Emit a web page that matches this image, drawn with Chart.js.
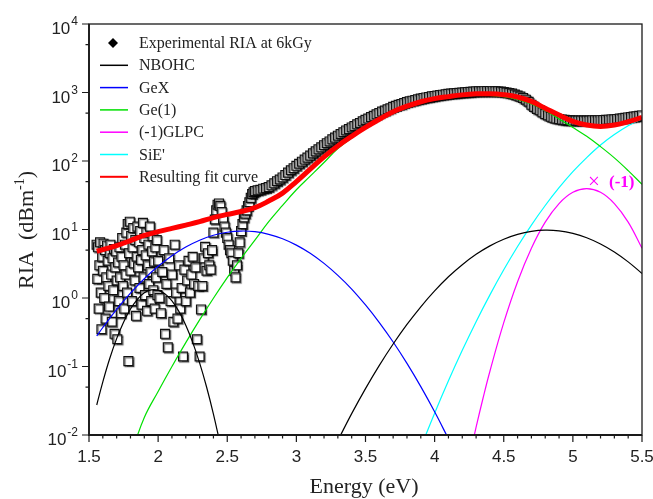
<!DOCTYPE html>
<html>
<head>
<meta charset="utf-8">
<script src="https://cdn.jsdelivr.net/npm/chart.js@4"></script>
<style>
  body { margin: 0; background: #fff; }
  #c { display: block; }
</style>
</head>
<body>
<canvas id="c" width="653" height="499"></canvas>
<script>
// measured spectrum (noisy low-energy part, then the smooth band)
const noisyE = [1.555, 1.56, 1.565, 1.57, 1.575, 1.58, 1.585, 1.59, 1.595, 1.6, 1.605, 1.61, 1.615, 1.62, 1.625, 1.63, 1.635, 1.64, 1.645, 1.65,
  1.655, 1.66, 1.665, 1.67, 1.675, 1.68, 1.685, 1.69, 1.695, 1.7, 1.705, 1.71, 1.715, 1.72, 1.725, 1.73, 1.735, 1.74, 1.745, 1.75,
  1.755, 1.76, 1.765, 1.77, 1.775, 1.78, 1.785, 1.79, 1.795, 1.8, 1.805, 1.81, 1.815, 1.82, 1.825, 1.83, 1.835, 1.84, 1.845, 1.85,
  1.855, 1.86, 1.865, 1.87, 1.875, 1.88, 1.885, 1.89, 1.895, 1.9, 1.905, 1.91, 1.915, 1.92, 1.925, 1.93, 1.935, 1.94, 1.945, 1.95,
  1.955, 1.96, 1.965, 1.97, 1.975, 1.98, 1.985, 1.99, 1.995,
  2.0, 2.01, 2.02, 2.03, 2.04, 2.05, 2.06, 2.07, 2.08, 2.09, 2.1, 2.11, 2.12, 2.13, 2.14, 2.15, 2.16, 2.17, 2.18, 2.19,
  2.2, 2.21, 2.22, 2.23, 2.24, 2.25, 2.26, 2.27, 2.28, 2.29, 2.3, 2.31, 2.32, 2.33, 2.34, 2.35, 2.36, 2.37, 2.38, 2.39,
  2.4, 2.41, 2.42, 2.43, 2.44, 2.45, 2.46, 2.47, 2.48, 2.49, 2.5, 2.51, 2.52, 2.53, 2.54, 2.55, 2.56, 2.57, 2.58, 2.59,
  2.6, 2.61, 2.62, 2.63, 2.64, 2.65, 2.66, 2.67, 2.68, 2.69];
const noisyRIA = [6.0, 1.9, 5.5, 0.7, 3.0, 6.5, 1.2, 0.35, 4.0, 2.5, 6.2, 1.0, 5.0, 0.5, 2.0, 5.8, 3.5, 1.5, 0.75, 4.5,
  6.0, 2.2, 0.45, 3.8, 1.3, 5.2, 0.3, 2.8, 4.8, 1.8, 0.25, 3.3, 0.9, 5.5, 2.0, 0.6, 4.0, 7.5, 1.5, 3.0,
  0.7, 6.0, 2.2, 9.0, 1.2, 12.0, 0.12, 4.5, 13.0, 2.5, 8.0, 0.9, 5.5, 10.5, 3.2, 1.8, 7.0, 0.55, 4.0, 11.0,
  2.8, 6.5, 1.4, 9.5, 3.6, 0.8, 5.0, 12.5, 2.0, 7.5, 1.1, 4.2, 9.0, 0.65, 3.0, 6.0, 1.6, 11.0, 2.4, 0.9,
  4.8, 8.0, 1.3, 3.4, 0.7, 5.5, 2.0, 7.0, 1.1,
  3.5, 1.0, 0.6, 2.4, 5.0, 0.3, 1.6, 0.19, 3.8, 0.9, 2.2, 0.45, 6.0, 1.2, 0.5, 3.0, 0.7, 1.4, 0.14, 2.6,
  0.9, 1.8, 3.5, 1.2, 2.2, 4.0, 1.6, 2.8, 0.25, 1.5, 0.14, 0.68, 1.5, 3.8, 5.6, 2.5, 4.5, 3.0, 2.6, 5.0,
  9.0, 14, 19, 23, 24, 22, 18, 14, 11, 9.0, 7.5, 6.0, 5.0, 4.5, 3.5, 2.5, 2.0, 3.0, 4.5, 6.5,
  9.5, 12, 15, 17, 19, 22, 25, 29, 33, 35];

const bandE = [2.7, 2.72, 2.74, 2.76, 2.78, 2.8, 2.82, 2.84, 2.86, 2.88, 2.9, 2.92, 2.94, 2.96, 2.98,
  3.0, 3.02, 3.04, 3.06, 3.08, 3.1, 3.12, 3.14, 3.16, 3.18, 3.2, 3.22, 3.24, 3.26, 3.28,
  3.3, 3.32, 3.34, 3.36, 3.38, 3.4, 3.42, 3.44, 3.46, 3.48, 3.5, 3.52, 3.54, 3.56, 3.58,
  3.6, 3.62, 3.64, 3.66, 3.68, 3.7, 3.72, 3.74, 3.76, 3.78, 3.8, 3.82, 3.84, 3.86, 3.88,
  3.9, 3.92, 3.94, 3.96, 3.98, 4.0, 4.02, 4.04, 4.06, 4.08, 4.1, 4.12, 4.14, 4.16, 4.18,
  4.2, 4.22, 4.24, 4.26, 4.28, 4.3, 4.32, 4.34, 4.36, 4.38, 4.4, 4.42, 4.44, 4.46, 4.48,
  4.5, 4.52, 4.54, 4.56, 4.58, 4.6, 4.62, 4.64, 4.66, 4.68, 4.7, 4.72, 4.74, 4.76, 4.78,
  4.8, 4.82, 4.84, 4.86, 4.88, 4.9, 4.92, 4.94, 4.96, 4.98, 5.0, 5.02, 5.04, 5.06, 5.08,
  5.1, 5.12, 5.14, 5.16, 5.18, 5.2, 5.22, 5.24, 5.26, 5.28, 5.3, 5.32, 5.34, 5.36, 5.38,
  5.4, 5.42, 5.44, 5.46, 5.48, 5.5];
const bandRIA = [36.3, 37.2, 38.0, 39.4, 40.3, 41.7, 44.2, 47.3, 50.7, 53.7, 57.5, 62.4, 67.6, 73.3, 78.5,
  85.1, 91.2, 97.7, 105, 112, 120, 129, 138, 148, 158, 170, 182, 193, 207, 219,
  234, 248, 263, 279, 292, 309, 324, 343, 359, 380, 398, 417, 437, 457, 479,
  501, 525, 543, 569, 589, 617, 638, 661, 676, 700, 724, 741, 759, 776, 794,
  813, 832, 847, 861, 877, 891, 904, 916, 929, 942, 955, 964, 973, 982, 991,
  1000, 1007, 1014, 1021, 1028, 1035, 1040, 1042, 1045, 1047, 1047, 1045, 1040, 1035, 1028,
  1019, 1000, 982, 962, 933, 902, 871, 832, 785, 733, 661, 617, 575, 550, 513,
  484, 462, 442, 427, 417, 409, 403, 398, 394, 392, 389, 389, 388, 388, 389,
  389, 390, 391, 392, 393, 394, 396, 398, 401, 404, 407, 411, 416, 421, 426,
  432, 438, 444, 450, 456, 462];

// fitted gaussian bands
const nbohcLowE = [1.556, 1.6, 1.65, 1.7, 1.75, 1.8, 1.85, 1.9, 1.95, 2.0, 2.05, 2.1, 2.15, 2.2, 2.25, 2.3, 2.35, 2.4, 2.45];
const nbohcLow = [0.0274, 0.0598, 0.131, 0.255, 0.443, 0.690, 0.957, 1.19, 1.315, 1.30, 1.148, 0.906, 0.638, 0.401, 0.225, 0.113, 0.0506, 0.0202, 0.0072];

const nbohcHighE = [3.3, 3.4, 3.5, 3.6, 3.7, 3.8, 3.9, 4.0, 4.1, 4.2, 4.3, 4.4, 4.5, 4.6, 4.7, 4.8, 4.9, 5.0, 5.1, 5.2, 5.3, 5.4, 5.5];
const nbohcHigh = [0.0083, 0.0205, 0.0476, 0.104, 0.213, 0.411, 0.745, 1.27, 2.04, 3.06, 4.34, 5.77, 7.22, 8.49, 9.40, 9.77, 9.55, 8.77, 7.59, 6.15, 4.70, 3.37, 2.28];

const gexE = [1.556, 1.6, 1.7, 1.8, 1.9, 2.0, 2.1, 2.2, 2.3, 2.4, 2.5, 2.6, 2.7, 2.8, 2.9, 3.0, 3.1, 3.2, 3.3, 3.4, 3.5, 3.6, 3.7, 3.8, 3.9, 4.0, 4.1];
const gex = [0.279, 0.371, 0.683, 1.18, 1.91, 2.90, 4.14, 5.55, 6.98, 8.24, 9.12, 9.50, 9.29, 8.51, 7.33, 5.92, 4.50, 3.20, 2.14, 1.35, 0.791, 0.438, 0.228, 0.111, 0.0508, 0.0218, 0.0088];

const ge1E = [1.8, 1.9, 2.0, 2.1, 2.2, 2.3, 2.4, 2.5, 2.6, 2.7, 2.8, 2.9, 3.0, 3.1, 3.2, 3.3, 3.4, 3.5, 3.6, 3.7, 3.8, 3.9,
  4.0, 4.1, 4.2, 4.3, 4.4, 4.5, 4.6, 4.7, 4.8, 4.9, 5.0, 5.1, 5.2, 5.3, 5.4, 5.5];
const ge1 = [0.005, 0.0180, 0.0432, 0.100, 0.223, 0.479, 0.991, 1.98, 3.80, 7.0, 13.0, 22.5, 38, 60, 95, 152, 216, 297, 392, 507, 612, 712,
  790, 850, 895, 918, 910, 872, 795, 680, 545, 410, 309, 229, 162, 111, 72.4, 45.7];

const glpcE = [4.25, 4.3, 4.35, 4.4, 4.5, 4.6, 4.7, 4.8, 4.9, 5.0, 5.1, 5.2, 5.3, 5.4, 5.5];
const glpc = [0.0046, 0.0130, 0.0344, 0.0853, 0.436, 1.73, 5.33, 12.8, 23.9, 34.9, 39.5, 34.9, 23.9, 12.8, 5.33];

const sieE = [3.9, 4.0, 4.1, 4.2, 4.3, 4.4, 4.5, 4.6, 4.7, 4.8, 4.9, 5.0, 5.1, 5.2, 5.3, 5.4, 5.5];
const sie = [0.0066, 0.0208, 0.0618, 0.172, 0.451, 1.11, 2.58, 5.64, 11.6, 22.4, 40.7, 69.8, 112, 171, 243, 327, 413];

const fitE = [1.556, 1.6, 1.7, 1.8, 1.9, 2.0, 2.1, 2.2, 2.3, 2.4, 2.5, 2.6, 2.7, 2.8, 2.9, 3.0, 3.1, 3.2, 3.3, 3.4, 3.5,
  3.6, 3.7, 3.8, 3.9, 4.0, 4.1, 4.2, 4.3, 4.4, 4.5, 4.6, 4.7, 4.8, 4.9, 5.0, 5.1, 5.2, 5.3, 5.4, 5.5];
const fitRIA = [4.8, 5.1, 5.8, 6.9, 8.2, 9.3, 10.4, 11.6, 13.0, 14.9, 16.6, 18.3, 20.8, 26, 34, 50, 76, 115, 166, 229, 309,
  407, 525, 631, 733, 813, 871, 923, 955, 960, 929, 861, 741, 589, 468, 380, 335, 320, 335, 376, 432];

const legendNames = ['Experimental RIA at 6kGy', 'NBOHC', 'GeX', 'Ge(1)', '(-1)GLPC', "SiE'", 'Resulting fit curve'];
const legendColors = ['#000000', '#000000', '#0000ff', '#00e000', '#ff00ff', '#00ffff', '#ff0000'];
const yTickExps = [-2, -1, 0, 1, 2, 3, 4];

const serif = '"Liberation Serif", "DejaVu Serif", serif';
const sans = '"Liberation Sans", Arial, sans-serif';

function pts(xs, ys) {
  return xs.map((e, i) => ({ x: e, y: ys[i] }));
}

function curve(xs, ys, color, width, order) {
  return {
    data: pts(xs, ys),
    showLine: true,
    borderColor: color,
    borderWidth: width,
    pointRadius: 0,
    tension: 0.4,
    order: order
  };
}

const datasets = [
  {
    data: pts(noisyE.concat(bandE), noisyRIA.concat(bandRIA)),
    pointStyle: 'rect',
    pointRadius: 6.3,
    pointBackgroundColor: '#ffffff',
    pointBorderColor: '#111111',
    pointBorderWidth: 1.2,
    showLine: false,
    order: 9
  },
  curve(nbohcLowE, nbohcLow, '#000000', 1.2, 2),
  curve(nbohcHighE, nbohcHigh, '#000000', 1.2, 2),
  curve(gexE, gex, '#0000ff', 1.2, 2),
  curve(ge1E, ge1, '#00e000', 1.2, 2),
  curve(glpcE, glpc, '#ff00ff', 1.2, 2),
  curve(sieE, sie, '#00ffff', 1.2, 2),
  curve(fitE, fitRIA, '#ff0000', 5, 0)
];

const framePlugin = {
  id: 'frame',
  beforeDatasetDraw(chart, args) {
    if (args.index === 0) {
      const ctx = chart.ctx;
      ctx.save();
      ctx.shadowColor = 'rgba(0,0,0,0.55)';
      ctx.shadowOffsetX = 1.2;
      ctx.shadowOffsetY = 1.2;
      ctx.shadowBlur = 1;
    }
  },
  afterDatasetDraw(chart, args) {
    if (args.index === 0) chart.ctx.restore();
  },
  afterDraw(chart) {
    const ctx = chart.ctx;
    const a = chart.chartArea;
    const x = chart.scales.x;
    const y = chart.scales.y;
    ctx.save();
    ctx.strokeStyle = '#1a1a1a';
    ctx.lineWidth = 1.3;
    ctx.strokeRect(a.left, a.top, a.right - a.left, a.bottom - a.top);
    ctx.lineWidth = 1.8;
    ctx.beginPath();
    ctx.moveTo(a.left, a.top);
    ctx.lineTo(a.left, a.bottom);
    ctx.lineTo(a.right, a.bottom);
    ctx.stroke();

    // tick marks
    ctx.lineWidth = 1.2;
    ctx.beginPath();
    for (let i = 0; i <= 40; i++) {
      const px = x.getPixelForValue(1.5 + i * 0.1);
      const len = i % 5 === 0 ? 7 : 3.5;
      ctx.moveTo(px, a.bottom);
      ctx.lineTo(px, a.bottom + len);
    }
    yTickExps.forEach(n => {
      const py = y.getPixelForValue(Math.pow(10, n));
      ctx.moveTo(a.left, py);
      ctx.lineTo(a.left - 7, py);
      if (n < 4) {
        const pm = y.getPixelForValue(5 * Math.pow(10, n));
        ctx.moveTo(a.left, pm);
        ctx.lineTo(a.left - 3.5, pm);
      }
    });
    ctx.stroke();

    // y tick labels 10^n
    ctx.fillStyle = '#222';
    ctx.textBaseline = 'alphabetic';
    yTickExps.forEach(n => {
      const py = y.getPixelForValue(Math.pow(10, n));
      ctx.font = '12px ' + sans;
      const ew = ctx.measureText(String(n)).width;
      ctx.textAlign = 'left';
      ctx.fillText(String(n), 78 - ew, py + 1);
      ctx.font = '17px ' + sans;
      ctx.textAlign = 'right';
      ctx.fillText('10', 77 - ew, py + 10);
    });

    // y axis title
    ctx.save();
    ctx.translate(33, 230);
    ctx.rotate(-Math.PI / 2);
    ctx.font = '22px ' + serif;
    const p1 = 'RIA  (dBm';
    const w1 = ctx.measureText(p1).width;
    ctx.font = '14px ' + serif;
    const w2 = ctx.measureText('-1').width;
    ctx.font = '22px ' + serif;
    const w3 = ctx.measureText(')').width;
    const start = -(w1 + w2 + w3) / 2;
    ctx.textAlign = 'left';
    ctx.fillText(p1, start, 0);
    ctx.font = '14px ' + serif;
    ctx.fillText('-1', start + w1, -9);
    ctx.font = '22px ' + serif;
    ctx.fillText(')', start + w1 + w2, 0);
    ctx.restore();

    // x axis title
    ctx.font = '22px ' + serif;
    ctx.textAlign = 'center';
    ctx.fillText('Energy (eV)', 364, 493);

    // legend
    ctx.textAlign = 'left';
    ctx.font = '16px ' + serif;
    legendNames.forEach((name, i) => {
      const ry = 43 + i * 22.3;
      if (i === 0) {
        ctx.fillStyle = '#000';
        ctx.beginPath();
        ctx.moveTo(113, ry - 5);
        ctx.lineTo(118, ry);
        ctx.lineTo(113, ry + 5);
        ctx.lineTo(108, ry);
        ctx.closePath();
        ctx.fill();
      } else {
        ctx.strokeStyle = legendColors[i];
        ctx.lineWidth = i === 6 ? 2 : 1.5;
        ctx.beginPath();
        ctx.moveTo(100, ry);
        ctx.lineTo(128, ry);
        ctx.stroke();
      }
      ctx.fillStyle = '#222';
      ctx.fillText(name, 139, ry + 5);
    });

    // (-1) marker on the GLPC band
    ctx.fillStyle = '#ff00ff';
    ctx.font = '21px ' + serif;
    ctx.textAlign = 'center';
    ctx.fillText('\u00d7', 594, 188);
    ctx.font = 'bold 17px ' + serif;
    ctx.textAlign = 'left';
    ctx.fillText('(-1)', 609, 187);
    ctx.restore();
  }
};

new Chart(document.getElementById('c'), {
  type: 'scatter',
  data: { datasets: datasets },
  options: {
    responsive: false,
    animation: false,
    layout: { padding: { top: 24, right: 11, left: 0, bottom: 0 } },
    plugins: {
      legend: { display: false },
      tooltip: { enabled: false }
    },
    scales: {
      x: {
        type: 'linear',
        min: 1.5,
        max: 5.5,
        grid: { display: false, drawTicks: false },
        border: { display: false },
        ticks: {
          stepSize: 0.5,
          autoSkip: false,
          maxRotation: 0,
          padding: 12,
          color: '#222',
          font: { family: sans, size: 17 },
          callback: v => String(Math.round(v * 10) / 10)
        },
        afterFit: s => { s.height = 64; s.paddingLeft = 0; s.paddingRight = 0; }
      },
      y: {
        type: 'logarithmic',
        min: 0.01,
        max: 10000,
        grid: { display: false, drawTicks: false },
        border: { display: false },
        ticks: { display: false },
        afterFit: s => { s.width = 89; s.paddingTop = 0; s.paddingBottom = 0; }
      }
    }
  },
  plugins: [framePlugin]
});
</script>
</body>
</html>
